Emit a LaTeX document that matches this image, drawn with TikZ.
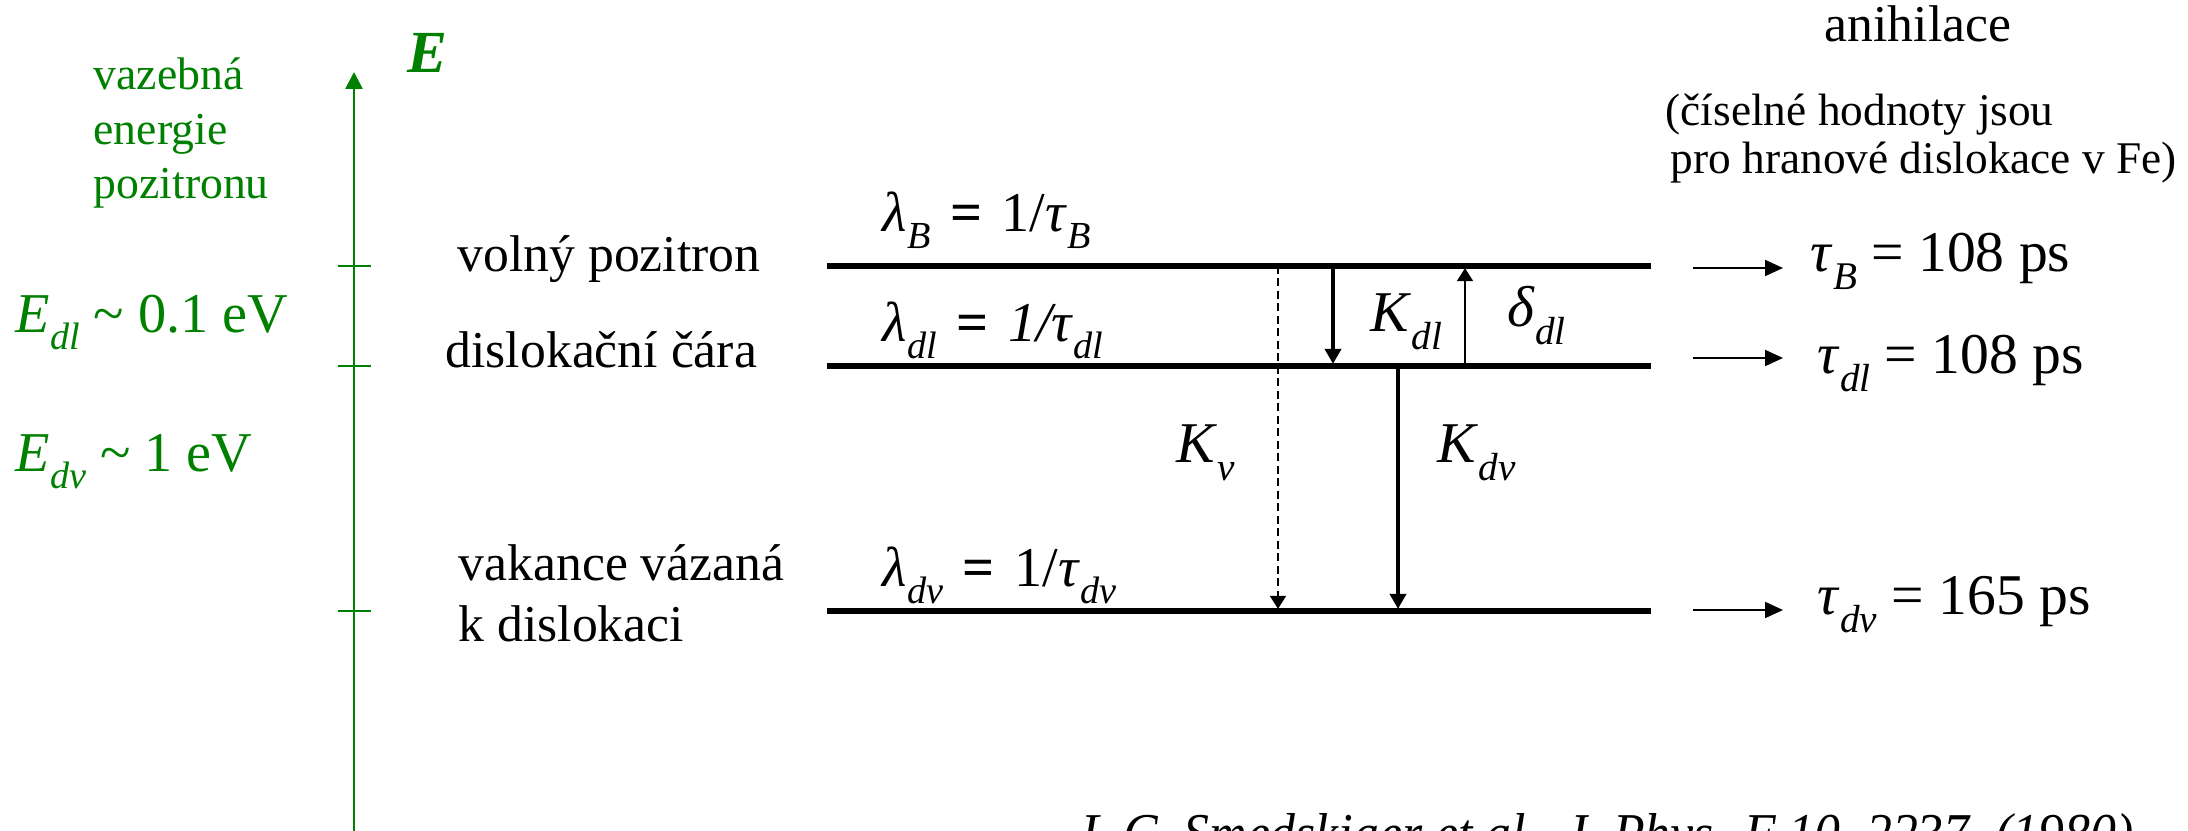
\documentclass[tikz,border=0pt]{standalone}
\usepackage{fontspec}
\setmainfont{Liberation Serif}
\usepackage{graphicx}
\usetikzlibrary{arrows.meta, positioning}
\definecolor{posgreen}{HTML}{008000}
\newcommand{\ix}[1]{\raisebox{-0.3em}{\scalebox{0.68}{\itshape #1}}}
\newcommand{\eqs}{\hspace{0.35em}\textbf{=}\hspace{0.35em}}

\begin{document}
\begin{tikzpicture}[x=0.1mm, y=-0.1mm,
  lvl/.style={line width=1.45pt},
  trap/.style={line width=1.15pt, shorten >=0.6pt, -{Triangle[length=1.5mm, width=1.6mm]}},
  thinarr/.style={line width=0.45pt, shorten >=0.6pt, -{Triangle[length=1.3mm, width=1.6mm]}},
  outarr/.style={line width=0.55pt, -{Triangle[length=1.8mm, width=1.6mm]}},
  lbl/.style={inner sep=0pt, anchor=base west, font=\fontsize{14.7}{17.6}\selectfont},
  rate/.style={inner sep=0pt, anchor=base west, font=\fontsize{16}{19}\selectfont},
  big/.style={inner sep=0pt, anchor=base west, font=\fontsize{16.4}{19.7}\selectfont},
  grn/.style={text=posgreen}]
\useasboundingbox (0,0) rectangle (2188,831);

% energy axis
\coordinate (ax0) at (354,840);
\coordinate (ax1) at (354,72);
\draw[posgreen, line width=0.75pt, -{Triangle[length=1.7mm, width=1.7mm]}] (ax0) -- (ax1);
\foreach \y/\n in {266/B, 366/D, 611/V} {
  \coordinate (t\n) at (354,\y);
  \draw[posgreen, line width=0.75pt] ([xshift=-1.6mm]t\n) -- ([xshift=1.7mm]t\n);
}
\node[grn, inner sep=0pt, anchor=base west, font=\fontsize{17}{20}\selectfont\bfseries\itshape] (elab) at (407,73) {E};
% base of a multi-line node = its last line
\node[grn, inner sep=0pt, anchor=base west, align=left, font=\fontsize{13}{15.6}\selectfont] (bind) at (93,199) {vazebná\\energie\\pozitronu};
\node[big, grn, font=\fontsize{16}{19}\selectfont] (edl) at (15,333) {\textit{E}\ix{dl} \textasciitilde{} 0.1 eV};
\node[big, grn, font=\fontsize{16}{19}\selectfont] (edv) at (15,472) {\textit{E}\ix{dv} \textasciitilde{} 1 eV};

% levels
\coordinate (Bl) at (827,266); \coordinate (Br) at (1651,266);
\coordinate (Dl) at (827,366); \coordinate (Dr) at (1651,366);
\coordinate (Vl) at (827,611); \coordinate (Vr) at (1651,611);
\draw[lvl] (Bl) -- (Br);
\draw[lvl] (Dl) -- (Dr);
\draw[lvl] (Vl) -- (Vr);

\node[lbl] (free) at (457,272) {volný pozitron};
\node[lbl] (disl) at (445,368) {dislokační čára};
\node[lbl, align=left] (vac) at (458,642) {vakance vázaná\\k dislokaci};

\node[rate] (lamB) at (882,232) {\textit{λ}\ix{B}\eqs 1/\textit{τ}\ix{B}};
\node[rate] (lamD) at (882,342) {\textit{λ}\ix{dl}\eqs\textit{1/τ}\ix{dl}};
\node[rate] (lamV) at (882,587) {\textit{λ}\ix{dv}\eqs 1/\textit{τ}\ix{dv}};

% transitions
\coordinate (kv) at (1278,0);
\coordinate (kdl) at (1333,0);
\coordinate (kdv) at (1398,0);
\coordinate (ddl) at (1465,0);
\draw[thinarr, dash pattern=on 0.8mm off 0.45mm] (kv |- Bl) -- (kv |- Vl);
\draw[trap] (kdl |- Bl) -- (kdl |- Dl);
\draw[trap] (kdv |- Dl) -- (kdv |- Vl);
\draw[thinarr] (ddl |- Dl) -- (ddl |- Bl);

\node[big] (kdlL) at (1370,332) {\textit{K}\ix{dl}};
\node[big] (ddlL) at (1507,327) {\textit{δ}\ix{dl}};
\node[big] (kvL) at (1176,463) {\textit{K}\ix{v}};
\node[big] (kdvL) at (1437,463) {\textit{K}\ix{dv}};

% annihilation
\draw[outarr] ([shift={(4.2mm,-0.2mm)}]Br) -- ([shift={(13.2mm,-0.2mm)}]Br);
\draw[outarr] ([shift={(4.2mm,0.8mm)}]Dr) -- ([shift={(13.2mm,0.8mm)}]Dr);
\draw[outarr] ([shift={(4.2mm,0.1mm)}]Vr) -- ([shift={(13.2mm,0.1mm)}]Vr);
\node[big] (tauB) at (1810,272) {\textit{τ}\ix{B} = 108 ps};
\node[big] (tauD) at (1817,374) {\textit{τ}\ix{dl} = 108 ps};
\node[big] (tauV) at (1817,615) {\textit{τ}\ix{dv} = 165 ps};

\node[lbl, anchor=base] (anih) at (1918,42) {anihilace};
\node[inner sep=0pt, anchor=base west, align=left, font=\fontsize{12.9}{13.7}\selectfont] (note) at (1665,174) {(číselné hodnoty jsou\\\hspace{0.5mm}pro hranové dislokace v Fe)};

\node[inner sep=0pt, anchor=base west, font=\fontsize{16}{19}\selectfont\itshape] (cite) at (1081,852) {\scalebox{0.92}[1]{L.C. Smedskjaer et al., J. Phys. F 10, 2237, (1980)}};
\end{tikzpicture}
\end{document}
